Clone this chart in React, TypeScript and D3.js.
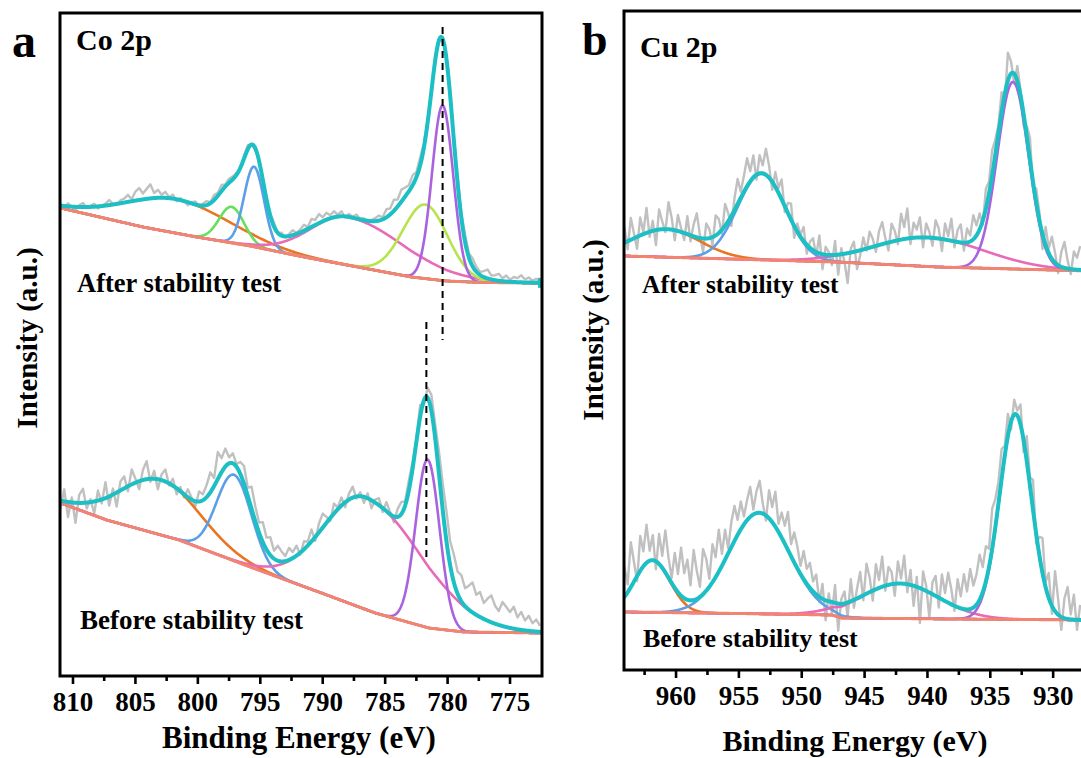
import React from 'react';
import * as d3 from 'd3';

const FONT = '"Liberation Serif", "Times New Roman", Times, serif';

// ---------- colours ----------
const C_RAW = '#c0c0c0';
const C_BG = '#f4846f';
const C_ENV = '#1cbfc3';
const C_ORANGE = '#ea7421';
const C_GREEN = '#66e05a';
const C_BLUE = '#5c9ee8';
const C_PINK = '#e86ab8';
const C_LIME = '#b6e44c';
const C_PURPLE = '#ab62df';

// ---------- Panel a : Co 2p ----------
const coTicks = [810, 805, 800, 795, 790, 785, 780, 775];
const coMinorTicks = [807.5, 802.5, 797.5, 792.5, 787.5, 782.5, 777.5];
const coDomain = [811.04, 772.44];
const coRawStart = 811;
const coRawStep = 0.3;

// background (binding energy, intensity)
const coAfterBackground: [number, number][] = [
  [811, 468], [804.4, 449], [800.1, 439], [795.8, 430], [791.5, 419],
  [787.2, 409], [782.9, 399], [780.1, 395], [777.2, 393.5], [772.4, 393],
];
// peaks: centre, height, sigma (high-BE side), sigma (low-BE side)
const coAfterCentres = [801.8, 797.3, 795.5, 788.0, 781.8, 780.4];
const coAfterHeights = [34, 36, 80, 48, 74, 175];
const coAfterSigmaHi = [4.0, 1.0, 0.8, 3.0, 1.8, 0.85];
const coAfterSigmaLo = [4.3, 1.0, 0.8, 4.6, 1.8, 0.85];
const coAfterColors = [C_ORANGE, C_GREEN, C_BLUE, C_PINK, C_LIME, C_PURPLE];
const coAfterResidual = [
  1, -2, 3, 0, -3, 2, 4, -1, 1, 3, -2, 0, 2, 5, 1, -1, 3,
  4, 7, 2, 9, 12, 6, 10, 14, 5, 8, 3, 6, 1, 4,
  -2, 2, 0, -3, 1, 3, -1, 2, 4, 1, 5, 3, 6, 2, 4, 3,
  2, -1, 3, 4, 0, -2, 2,
  1, -3, 2, 4, 0, 3, -1, 2, 5, 1,
  3, 6, 2, 8, 5, 9, 4, 7, 3, 6, 2, 5, -1, 3, 1, 4, 0, 2, -2, 1,
  3, 5, 2, 8, 6, 11, 7, 12, 9, 6, 10, 5, 8, 4,
  3, -2, 5, 2, -3, 4, 6, 2, 8, 5,
  7, 4, 8, 5, 3, 6, 9, 4, 5, 7, 3, 6, 2, 5, 4, 7, 3, 5, 2, 4, 1,
];

const coBeforeBackground: [number, number][] = [
  [811, 173], [807.3, 156], [801.5, 136], [795.8, 109], [790.1, 83],
  [785.8, 63], [781.5, 48], [778.7, 44], [772.4, 43],
];
const coBeforeCentres = [803.0, 797.1, 786.6, 781.6];
const coBeforeHeights = [55, 86, 112, 168];
const coBeforeSigmaHi = [3.2, 1.4, 3.3, 0.95];
const coBeforeSigmaLo = [3.2, 1.4, 4.6, 0.95];
const coBeforeColors = [C_ORANGE, C_BLUE, C_PINK, C_PURPLE];
const coBeforeResidual = [
  -8, 12, -15, 5, -20, 8, 14, -6, 3, -12, 10, -4, 16, -9, 6, -14, 9,
  12, -5, 15, 4, -8, 10, 18, -3, 8, -10, 6, 12, -2, 7,
  -6, 4, -3, 8, 2, -5, 10, 6,
  12, 20, 8, 27, 14, 18, 6, 10,
  3, 12, 18, 8, 22, 15, 10, 20, 12, 18, 8, 15, 10, 5,
  12, 6, 10, -2, 8, 4, 12, -4, 9, 14, 6, -3, 10, 2, 8, -5, 6, 11, -2, 4,
  -6, 5, -8, 3, 7, -4, 9, 2, -6, 8, 12, 4, 10, 6,
  3, 12, -5, 10, 16, 14, 22, 26, 30, 24,
  28, 22, 26, 18, 24, 30, 20, 25, 16, 22, 27, 18, 14, 24, 20, 16, 22, 12, 18, 10, 15, 8, 12, 6,
];
// dashed guide lines: energy, top intensity, bottom intensity
const coDashEnergy = [780.4, 781.7];
const coDashTop = [649, 354];
const coDashBottom = [336, 119];

// ---------- Panel b : Cu 2p ----------
const cuTicks = [960, 955, 950, 945, 940, 935, 930];
const cuMinorTicks = [962.5, 957.5, 952.5, 947.5, 942.5, 937.5, 932.5, 927.5];
const cuDomain = [964.14, 926.91];
const cuRawStart = 964.1;
const cuRawStep = 0.25;

const cuAfterBackground: [number, number][] = [
  [964.1, 414], [947.2, 408], [939.2, 403], [927.0, 399],
];
const cuAfterCentres = [960.8, 953.2, 940.0, 933.2];
const cuAfterHeights = [28, 86, 29, 187];
const cuAfterSigmaHi = [2.7, 1.9, 4.2, 1.25];
const cuAfterSigmaLo = [2.7, 1.9, 4.5, 1.25];
const cuAfterColors = [C_ORANGE, C_BLUE, C_PINK, C_PURPLE];
const cuAfterResidual = [
  15, -8, 22, 5, -12, 18, 2, 25, -5, 10, -15, 20, 8, -3, 27, 12, -10, 16, 4, -7,
  18, -6, 12, 24, 3, -14, 15, 9, -8, 20, 14, -4, 22, 8, -10, 12, 25, 6, 16, 28,
  10, 22, -5, 18, 8, 26, 12, -8, 15, 5, 20, -6, 10, 16, -12, 8, 2, 14, -9, 6,
  12, -4, 18, -15, 8, 3, -10, 14, -20, 6, -8, -30, 4, 10, -18, -5, 12, -2, 16, 8,
  -6, 14, 22, 5, -8, 18, 10, -4, 26, 12, 30, -6, 15, 8, 20, -10, 14, 6, -8, 18,
  10, -12, 16, 4, 22, -6, 12, 18, -8, 14, 6, 24, 10, 16, -4, 20, 12, 25, 15, 8,
  20, -8, 28, 12, -10, 15, 5, -12, 10, 22, -6, 14, 8, -15, 18, 5, 22, 10, -8, 15,
  26, 8, -5, 18, 12, 24,
];

const cuBeforeBackground: [number, number][] = [
  [964.1, 58], [955, 56.5], [947.6, 55], [946.8, 52], [938, 51], [927.0, 50],
];
const cuBeforeCentres = [961.9, 953.4, 942.2, 933.0];
const cuBeforeHeights = [52, 101, 35, 205];
const cuBeforeSigmaHi = [1.4, 2.4, 3.1, 1.25];
const cuBeforeSigmaLo = [1.4, 2.4, 3.1, 1.25];
const cuBeforeColors = [C_ORANGE, C_BLUE, C_PINK, C_PURPLE];
const cuBeforeResidual = [
  30, 8, 45, 20, -5, 35, 15, 38, 10, 25, -8, 30, 12, 42, 20, 5, 35, 18, 48, 25,
  40, 15, 50, 28, 10, 45, 32, 8, 38, 20, 42, 12, 30, 5, 25, 35, 15, 28, 8, 20,
  30, 5, 22, 32, 10, -5, 28, 15, 35, 8, 25, 18, 38, 12, 30, 22, 8, 28, 15, 25,
  10, 20, -5, 15, -20, 8, -12, 18, -27, 5, 12, -15, 22, -8, 10, 25, -5, 30, 15, -10,
  25, 8, 30, -5, 18, 12, -12, 22, 5, 28, -8, 15, -20, 10, -35, 18, 5, -25, 12, 20,
  -10, 25, 8, 30, 15, -5, 28, 12, 35, 18, 40, 22, 30, 45, 25, 35, 18, 40, 28, 22,
  30, 10, 22, -8, 15, 5, 20, -12, 25, 8, 30, -10, 18, 35, 5, 25, -8, 40, 15, -13,
  20, 32, 5, 25, -10, 15,
];

// ---------- helpers ----------
type Peak = { c: number; h: number; sHi: number; sLo: number; color: string };

function buildPeaks(c: number[], h: number[], sHi: number[], sLo: number[], col: string[]): Peak[] {
  return c.map((cc, i) => ({ c: cc, h: h[i], sHi: sHi[i], sLo: sLo[i], color: col[i] }));
}

function peakValue(E: number, p: Peak) {
  const s = E > p.c ? p.sHi : p.sLo;
  return p.h * Math.exp(-((E - p.c) * (E - p.c)) / (2 * s * s));
}

type SpecProps = {
  x: d3.ScaleLinear<number, number>;
  y: d3.ScaleLinear<number, number>;
  bgPts: [number, number][];
  peaks: Peak[];
  residual: number[];
  start: number;
  step: number;
  endMark?: boolean;
};

function Spectrum({ x, y, bgPts, peaks, residual, start, step, endMark }: SpecProps) {
  const bg = d3.scaleLinear().domain(bgPts.map((p) => p[0])).range(bgPts.map((p) => p[1])).clamp(true);
  const [e0, e1] = x.domain();
  const fine = d3.range(e0, e1 - 0.001, -0.04);
  const env = (E: number) => bg(E) + d3.sum(peaks, (p) => peakValue(E, p));
  const raw: [number, number][] = residual.map((r, i) => {
    const E = start - i * step;
    return [E, env(E) + r];
  });
  const line = d3.line<[number, number]>().x((d) => x(d[0])).y((d) => y(d[1]));
  const envPts: [number, number][] = fine.map((E) => [E, env(E)]);
  const last = envPts[envPts.length - 1];
  return (
    <g>
      <path d={line(raw) || ''} fill="none" stroke={C_RAW} strokeWidth={2.4} strokeLinejoin="round" />
      {peaks.map((p, i) => (
        <path
          key={i}
          d={line(fine.map((E) => [E, bg(E) + peakValue(E, p)] as [number, number])) || ''}
          fill="none"
          stroke={p.color}
          strokeWidth={2.6}
        />
      ))}
      <path d={line(fine.map((E) => [E, bg(E)] as [number, number])) || ''} fill="none" stroke={C_BG} strokeWidth={3} />
      <path d={line(envPts) || ''} fill="none" stroke={C_ENV} strokeWidth={4} strokeLinejoin="round" />
      {endMark && (
        <rect x={x(last[0]) - 4} y={y(last[1]) - 5} width={5} height={10} fill={C_ENV} />
      )}
    </g>
  );
}

type AxisProps = {
  x: d3.ScaleLinear<number, number>;
  bottom: number;
  ticks: number[];
  minor: number[];
  labelY: number;
};

function XAxis({ x, bottom, ticks, minor, labelY }: AxisProps) {
  return (
    <g>
      {ticks.map((t) => (
        <line key={'M' + t} x1={x(t)} x2={x(t)} y1={bottom} y2={bottom + 8} stroke="#000" strokeWidth={2.6} />
      ))}
      {minor.map((t) => (
        <line key={'m' + t} x1={x(t)} x2={x(t)} y1={bottom} y2={bottom + 5} stroke="#000" strokeWidth={2.6} />
      ))}
      {ticks.map((t) => (
        <text
          key={'L' + t}
          x={x(t)}
          y={labelY}
          textAnchor="middle"
          fontFamily={FONT}
          fontWeight="bold"
          fontSize={27}
          fill="#000"
        >
          {t}
        </text>
      ))}
    </g>
  );
}

export default function App() {
  // panel a geometry
  const aL = 60, aR = 542, aT = 13, aB = 676;
  const xa = d3.scaleLinear().domain(coDomain).range([aL, aR]);
  const ya = d3.scaleLinear().domain([0, 663]).range([aB, aT]);
  // panel b geometry
  const bL = 624, bR = 1092, bT = 11, bB = 670;
  const xb = d3.scaleLinear().domain(cuDomain).range([bL, bR]);
  const yb = d3.scaleLinear().domain([0, 659]).range([bB, bT]);

  const coAfter = buildPeaks(coAfterCentres, coAfterHeights, coAfterSigmaHi, coAfterSigmaLo, coAfterColors);
  const coBefore = buildPeaks(coBeforeCentres, coBeforeHeights, coBeforeSigmaHi, coBeforeSigmaLo, coBeforeColors);
  const cuAfter = buildPeaks(cuAfterCentres, cuAfterHeights, cuAfterSigmaHi, cuAfterSigmaLo, cuAfterColors);
  const cuBefore = buildPeaks(cuBeforeCentres, cuBeforeHeights, cuBeforeSigmaHi, cuBeforeSigmaLo, cuBeforeColors);

  const txt = { fontFamily: FONT, fontWeight: 'bold' as const, fill: '#000' };

  return (
    <svg
      width={1081}
      height={758}
      viewBox="0 0 1081 758"
      style={{ position: 'absolute', left: 0, top: 0, background: '#fff' }}
    >
      <defs>
        <clipPath id="clipA">
          <rect x={aL} y={aT} width={aR - aL} height={aB - aT} />
        </clipPath>
        <clipPath id="clipB">
          <rect x={bL} y={bT} width={bR - bL} height={bB - bT} />
        </clipPath>
      </defs>
      <rect x={0} y={0} width={1081} height={758} fill="#fff" />

      {/* Panel a */}
      <g clipPath="url(#clipA)">
        <Spectrum x={xa} y={ya} bgPts={coAfterBackground} peaks={coAfter} residual={coAfterResidual}
          start={coRawStart} step={coRawStep} endMark />
        <Spectrum x={xa} y={ya} bgPts={coBeforeBackground} peaks={coBefore} residual={coBeforeResidual}
          start={coRawStart} step={coRawStep} />
        {coDashEnergy.map((E, i) => (
          <line key={i} x1={xa(E)} x2={xa(E)} y1={ya(coDashTop[i])} y2={ya(coDashBottom[i])}
            stroke="#000" strokeWidth={2} strokeDasharray="7,5" />
        ))}
      </g>
      <rect x={aL} y={aT} width={aR - aL} height={aB - aT} fill="none" stroke="#000" strokeWidth={3} />
      <XAxis x={xa} bottom={aB} ticks={coTicks} minor={coMinorTicks} labelY={711} />
      <text x={12} y={57} fontSize={48} {...txt}>a</text>
      <text x={76} y={50} fontSize={30} {...txt}>Co 2p</text>
      <text x={77} y={292} fontSize={26.5} {...txt}>After stability test</text>
      <text x={80} y={629} fontSize={27} {...txt}>Before stability test</text>
      <text x={299} y={748} textAnchor="middle" fontSize={31} {...txt}>Binding Energy (eV)</text>
      <text transform="translate(37,338) rotate(-90)" textAnchor="middle" fontSize={29} {...txt}>Intensity (a.u.)</text>

      {/* Panel b */}
      <g clipPath="url(#clipB)">
        <Spectrum x={xb} y={yb} bgPts={cuAfterBackground} peaks={cuAfter} residual={cuAfterResidual}
          start={cuRawStart} step={cuRawStep} />
        <Spectrum x={xb} y={yb} bgPts={cuBeforeBackground} peaks={cuBefore} residual={cuBeforeResidual}
          start={cuRawStart} step={cuRawStep} />
      </g>
      <rect x={bL} y={bT} width={bR - bL} height={bB - bT} fill="none" stroke="#000" strokeWidth={3} />
      <XAxis x={xb} bottom={bB} ticks={cuTicks} minor={cuMinorTicks} labelY={705} />
      <text x={582} y={55} fontSize={46} {...txt}>b</text>
      <text x={640} y={57} fontSize={30} {...txt}>Cu 2p</text>
      <text x={642} y={293} fontSize={25.5} {...txt}>After stability test</text>
      <text x={643} y={647} fontSize={26} {...txt}>Before stability test</text>
      <text x={855} y={751} textAnchor="middle" fontSize={30} {...txt}>Binding Energy (eV)</text>
      <text transform="translate(603,330) rotate(-90)" textAnchor="middle" fontSize={29} {...txt}>Intensity (a.u.)</text>
    </svg>
  );
}
